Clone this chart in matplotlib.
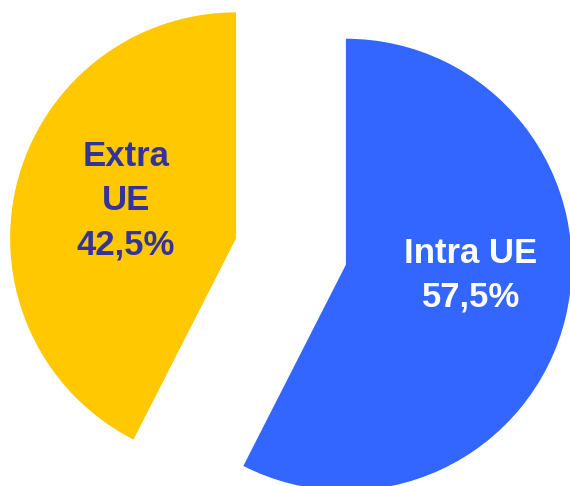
import matplotlib.pyplot as plt

# data
categories = ['Intra UE', 'Extra UE']
shares = [57.5, 42.5]
labels = ['Intra UE\n57,5%', 'Extra\nUE\n42,5%']

colors = ['#3366FF', '#FFC800']
text_colors = ['white', '#333399']
text_pos = [(0.796, -0.104), (-0.730, 0.224)]

plt.rcParams['font.family'] = ['Liberation Sans', 'DejaVu Sans']

fig = plt.figure(figsize=(5.7, 4.86), dpi=100)
ax = fig.add_axes([0, 0, 1, 1])
ax.pie(shares, colors=colors, startangle=90, counterclock=False,
       explode=[0.25, 0.25], radius=1.0,
       wedgeprops=dict(linewidth=0))
for label, pos, tc in zip(labels, text_pos, text_colors):
    ax.text(pos[0], pos[1], label, ha='center', va='center', color=tc,
            fontsize=25, fontweight='bold', linespacing=1.42)
ax.set_xlim(-1.288, 1.235)
ax.set_ylim(-1.038, 1.113)
ax.set_aspect('equal')
ax.axis('off')
fig.savefig('out.png', dpi=100)
